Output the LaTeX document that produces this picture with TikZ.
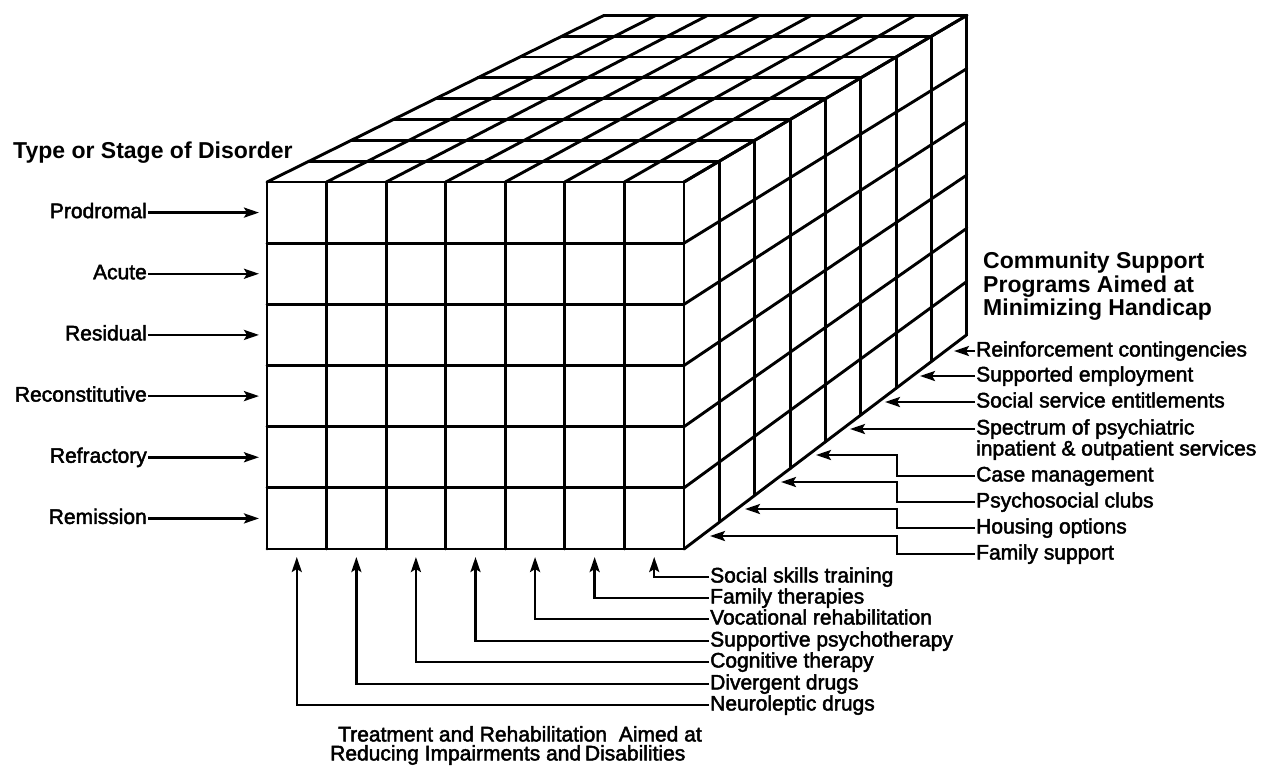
\documentclass[tikz,border=0pt]{standalone}
\usepackage{fontspec}
\setmainfont{Liberation Sans}
\newfontfamily\labfont{Liberation Sans}[FakeBold=2.2]
\usetikzlibrary{calc,arrows.meta}

\begin{document}
\begin{tikzpicture}[x=1pt,y=-1pt,
  grid/.style={line width=2.9pt, line cap=round, line join=round},
  arr/.style={line width=2.5pt, -{Stealth[length=15pt,width=10pt,inset=3pt]}},
  lab/.style={font=\labfont\fontsize{21}{22}\selectfont, inner sep=1pt,
              text height=15pt, text depth=4pt},
  ttl/.style={font=\bfseries\fontsize{23}{23.5}\selectfont, inner sep=0pt},
]
\useasboundingbox (0,0) rectangle (1271,769);

% ---------- the block: 7 columns x 6 rows x 8 layers ----------
% receding edges meet in one vanishing point; the back face is 0.87 of the front
\coordinate (V) at (2860,-1100);
\def\xl{267}\def\xr{684}\def\yt{182}\def\yb{549}

% front face
\foreach \i in {0,...,7} {
  \pgfmathsetmacro\x{\xl+\i*(\xr-\xl)/7}
  \draw[grid] (\x,\yt) -- (\x,\yb);
}
\foreach \r in {0,...,6} {
  \pgfmathsetmacro\y{\yt+\r*(\yb-\yt)/6}
  \draw[grid] (\xl,\y) -- (\xr,\y);
}
% top face
\foreach \i in {0,...,7} {
  \pgfmathsetmacro\x{\xl+\i*(\xr-\xl)/7}
  \draw[grid] (\x,\yt) -- ($(V)!0.87!(\x,\yt)$);
}
\foreach \j in {1,...,8} {
  \pgfmathsetmacro\s{1-0.13*\j/8}
  \draw[grid] ($(V)!\s!(\xl,\yt)$) -- ($(V)!\s!(\xr,\yt)$);
}
% right face
\foreach \r in {0,...,6} {
  \pgfmathsetmacro\y{\yt+\r*(\yb-\yt)/6}
  \draw[grid] (\xr,\y) -- ($(V)!0.87!(\xr,\y)$);
}
\foreach \j in {1,...,8} {
  \pgfmathsetmacro\s{1-0.13*\j/8}
  \draw[grid] ($(V)!\s!(\xr,\yt)$) -- ($(V)!\s!(\xr,\yb)$);
}

% ---------- stages of disorder (rows) ----------
\node[ttl, anchor=base west] (stage) at (13,158) {Type or Stage of Disorder};
\foreach \t [count=\k from 0] in {Prodromal,Acute,Residual,Reconstitutive,Refractory,Remission} {
  \pgfmathsetmacro\y{\yt+(\k+0.5)*(\yb-\yt)/6}
  \node[lab, anchor=east] (L\k) at (148,\y) {\t};
  \coordinate (tL\k) at (259,\y);
  \draw[arr] (L\k) -- (tL\k);
}

% ---------- treatment and rehabilitation (columns) ----------
\foreach \t/\c/\y [count=\k] in {
  Social skills training/7/577,
  Family therapies/6/598,
  Vocational rehabilitation/5/619,
  Supportive psychotherapy/4/641,
  Cognitive therapy/3/662,
  Divergent drugs/2/684,
  Neuroleptic drugs/1/705} {
  \pgfmathsetmacro\x{\xl+(\c-0.5)*(\xr-\xl)/7}
  \node[lab, anchor=west] (B\k) at (709,\y) {\t};
  \coordinate (tB\k) at (\x,557);
  \draw[arr] (B\k.west) -| (tB\k);
}
\node[font=\labfont\fontsize{21}{19}\selectfont, inner sep=0pt, anchor=north west, align=left]
  (treat) at (330,726)
  {\hspace*{8pt}Treatment and Rehabilitation\hspace{6pt} Aimed at\\
   Reducing Impairments and\hspace{-2pt} Disabilities};

% ---------- community support programs (layers) ----------
\node[ttl, anchor=north west, align=left] (comm) at (983,252)
  {Community Support\\Programs Aimed at\\Minimizing Handicap};

\coordinate (bend) at (897,0);
% straight arrows onto the rear half of the bottom edge
\foreach \t/\y/\tx [count=\k] in {
  Reinforcement contingencies/351/954,
  Supported employment/376/920,
  Social service entitlements/402/885,
  Spectrum of psychiatric/429/850} {
  \node[lab, anchor=west] (R\k) at (975,\y) {\t};
  \coordinate (tR\k) at (\tx,\y);
  \draw[arr] (R\k.west) -- (tR\k);
}
\node[lab, anchor=west] (R4b) at (975,450) {inpatient \& outpatient services};

% stepped arrows onto the front half of the bottom edge
\foreach \t/\y/\tx/\ty [count=\k from 5] in {
  Case management/476/816/455,
  Psychosocial clubs/502/781/482,
  Housing options/528/745/509,
  Family support/554/710/536} {
  \node[lab, anchor=west] (R\k) at (975,\y) {\t};
  \coordinate (tR\k) at (\tx,\ty);
  \draw[arr] (R\k.west) -- (R\k.west -| bend) |- (tR\k);
}
\end{tikzpicture}
\end{document}
